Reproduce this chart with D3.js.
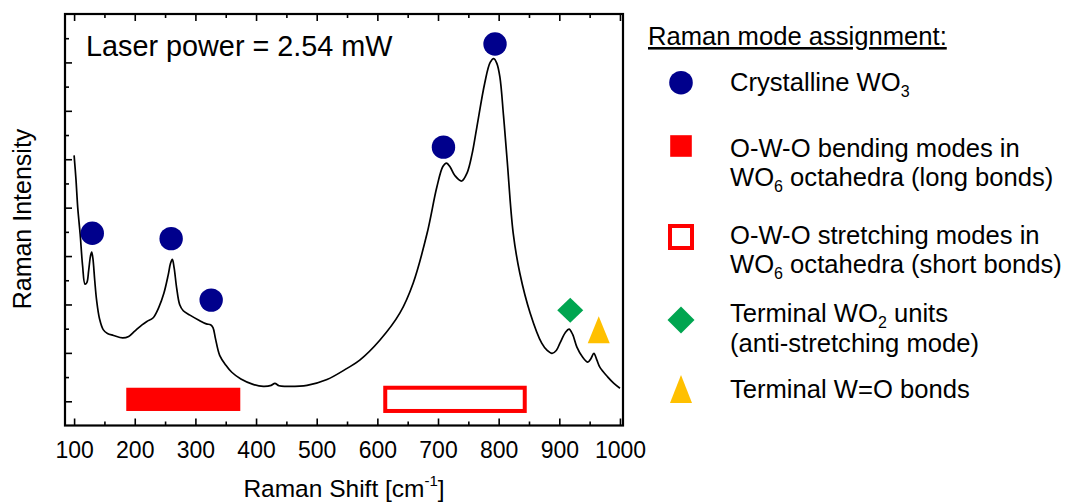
<!DOCTYPE html>
<html>
<head>
<meta charset="utf-8">
<script src="https://cdn.jsdelivr.net/npm/d3@7"></script>
<style>
  html, body { margin: 0; padding: 0; background: #fff; }
  svg { display: block; font-family: "Liberation Sans", Arial, sans-serif; }
</style>
</head>
<body>
<svg id="chart" width="1065" height="504"></svg>
<script>
// Raman spectrum of the WO3 film (arbitrary intensity units)
const wavenumber = [100, 103, 106, 110, 114, 118, 121, 124, 127, 129, 131, 134, 137, 142, 148, 155, 165, 180, 190, 200,
  212, 220, 230, 240, 248, 255, 259, 262, 265, 269, 274, 280, 291, 305, 318, 325, 329, 333, 340, 350,
  360, 375, 395, 412, 425, 431, 438, 450, 484, 517, 550, 571, 604, 637, 659, 682, 698, 708, 714, 720,
  728, 739, 748, 756, 764, 777, 786, 792, 797, 802, 808, 814, 824, 835, 852, 871, 880, 888, 895, 901,
  910, 916, 922, 929, 938, 947, 952, 957, 962, 967, 980, 990, 1000];
const intensity = [5.08, 4.6, 4.0, 3.45, 2.8, 2.42, 2.45, 2.7, 3.0, 3.08, 2.95, 2.5, 2.1, 1.7, 1.48, 1.40, 1.36, 1.31, 1.34, 1.45,
  1.58, 1.65, 1.72, 1.95, 2.23, 2.6, 2.85, 2.93, 2.75, 2.35, 2.0, 1.87, 1.78, 1.68, 1.60, 1.58, 1.52, 1.30, 0.95, 0.75,
  0.60, 0.46, 0.35, 0.31, 0.33, 0.37, 0.32, 0.31, 0.33, 0.45, 0.68, 0.85, 1.26, 1.82, 2.44, 3.47, 4.42, 4.85, 4.92, 4.84,
  4.66, 4.55, 4.72, 5.1, 5.66, 6.57, 7.0, 7.08, 6.98, 6.7, 5.9, 4.98, 3.47, 2.64, 1.82, 1.2, 1.05, 0.99, 1.05, 1.2,
  1.42, 1.49, 1.38, 1.12, 0.92, 0.81, 0.88, 0.99, 0.85, 0.70, 0.50, 0.37, 0.27];

// Mode assignment markers
const crystallineShift = [130, 260, 326, 709, 794];
const crystallineLevel = [3.47, 3.36, 2.09, 5.25, 7.38];
const wo2Shift = [918];
const wo2Level = [1.88];
const terminalShift = [965];
const terminalLevel = [1.48];

// Spectral ranges of the O-W-O modes
const bendingBand = [186, 374];
const stretchingBand = [613, 843];
const bandLevel = [-0.2, 0.28];

// Axis ticks
const xMajorTicks = [100, 200, 300, 400, 500, 600, 700, 800, 900, 1000];
const xMinorTicks = [150, 250, 350, 450, 550, 650, 750, 850, 950];
const yMajorTicks = [0, 1, 2, 3, 4, 5, 6, 7];
const yMinorTicks = [0.5, 1.5, 2.5, 3.5, 4.5, 5.5, 6.5, 7.5];

const navy = "#00008c", red = "#ff0000", green = "#00a550", amber = "#ffc000";

const svg = d3.select("#chart");
const plot = { left: 65, right: 623, top: 14, bottom: 425.5 };

const x = d3.scaleLinear().domain([85, 1005]).range([plot.left, plot.right]);
const y = d3.scaleLinear().domain([-0.5, 8]).range([plot.bottom, plot.top]);

function styleTicks(g) {
  g.select(".domain").remove();
  g.selectAll("line").attr("stroke", "#000").attr("stroke-width", 1.6);
  return g;
}

// Bottom axis: inward ticks, major and minor
const gb = svg.append("g").attr("transform", `translate(0,${plot.bottom})`)
  .call(d3.axisBottom(x).tickValues(xMajorTicks).tickSize(-7).tickPadding(16).tickFormat(d3.format("d")));
styleTicks(gb);
gb.selectAll("text").attr("font-size", 23).attr("fill", "#000").attr("font-family", "Liberation Sans, Arial, sans-serif");
styleTicks(svg.append("g").attr("transform", `translate(0,${plot.bottom})`)
  .call(d3.axisBottom(x).tickValues(xMinorTicks).tickSize(-4).tickFormat("")));

// Top axis
styleTicks(svg.append("g").attr("transform", `translate(0,${plot.top})`)
  .call(d3.axisTop(x).tickValues(xMajorTicks).tickSize(-7).tickFormat("")));
styleTicks(svg.append("g").attr("transform", `translate(0,${plot.top})`)
  .call(d3.axisTop(x).tickValues(xMinorTicks).tickSize(-4).tickFormat("")));

// Left axis (no labels)
styleTicks(svg.append("g").attr("transform", `translate(${plot.left},0)`)
  .call(d3.axisLeft(y).tickValues(yMajorTicks).tickSize(-7).tickFormat("")));
styleTicks(svg.append("g").attr("transform", `translate(${plot.left},0)`)
  .call(d3.axisLeft(y).tickValues(yMinorTicks).tickSize(-4).tickFormat("")));

// Frame
svg.append("rect")
  .attr("x", plot.left).attr("y", plot.top)
  .attr("width", plot.right - plot.left).attr("height", plot.bottom - plot.top)
  .attr("fill", "none").attr("stroke", "#000").attr("stroke-width", 2.2);

// Mode ranges
svg.append("rect")
  .attr("x", x(bendingBand[0])).attr("y", y(bandLevel[1]))
  .attr("width", x(bendingBand[1]) - x(bendingBand[0]))
  .attr("height", y(bandLevel[0]) - y(bandLevel[1]))
  .attr("fill", red);
svg.append("rect")
  .attr("x", x(stretchingBand[0])).attr("y", y(bandLevel[1]))
  .attr("width", x(stretchingBand[1]) - x(stretchingBand[0]))
  .attr("height", y(bandLevel[0]) - y(bandLevel[1]))
  .attr("fill", "none").attr("stroke", red).attr("stroke-width", 4);

// Spectrum
const spectrum = wavenumber.map((w, i) => [w, intensity[i]]);
svg.append("path")
  .datum(spectrum)
  .attr("fill", "none").attr("stroke", "#000").attr("stroke-width", 1.7)
  .attr("stroke-linejoin", "round")
  .attr("d", d3.line().x(d => x(d[0])).y(d => y(d[1])).curve(d3.curveCatmullRom.alpha(0.5)));

// Markers
svg.append("g").selectAll("circle")
  .data(crystallineShift.map((w, i) => [w, crystallineLevel[i]]))
  .join("circle")
  .attr("cx", d => x(d[0])).attr("cy", d => y(d[1])).attr("r", 11.7).attr("fill", navy);

const diamondPath = (cx, cy, w, h) => `M${cx},${cy - h / 2}L${cx + w / 2},${cy}L${cx},${cy + h / 2}L${cx - w / 2},${cy}Z`;
const trianglePath = (cx, cy, w, h) => `M${cx},${cy - h / 2}L${cx + w / 2},${cy + h / 2}L${cx - w / 2},${cy + h / 2}Z`;

svg.append("g").selectAll("path")
  .data(wo2Shift.map((w, i) => [w, wo2Level[i]]))
  .join("path")
  .attr("d", d => diamondPath(x(d[0]), y(d[1]), 26, 25)).attr("fill", green);
svg.append("g").selectAll("path")
  .data(terminalShift.map((w, i) => [w, terminalLevel[i]]))
  .join("path")
  .attr("d", d => trianglePath(x(d[0]), y(d[1]), 22, 27)).attr("fill", amber);

// Annotation
svg.append("text").attr("x", 86).attr("y", 56).attr("font-size", 28.8).attr("fill", "#000")
  .text("Laser power = 2.54 mW");

// Axis titles
svg.append("text")
  .attr("transform", "translate(31,219) rotate(-90)")
  .attr("text-anchor", "middle").attr("font-size", 25).attr("fill", "#000")
  .text("Raman Intensity");
const xt = svg.append("text").attr("x", (plot.left + plot.right) / 2).attr("y", 497)
  .attr("text-anchor", "middle").attr("font-size", 24.5).attr("fill", "#000");
xt.append("tspan").text("Raman Shift [cm");
xt.append("tspan").attr("dy", -11).attr("font-size", 15).text("-1");
xt.append("tspan").attr("dy", 11).text("]");

// Legend
const legendTitle = "Raman mode assignment:";
const legendSymbols = ["circle", "square", "openSquare", "diamond", "triangle"];
const legendLines = [
  [["Crystalline WO", "3"]],
  [["O-W-O bending modes in", ""], ["WO", "6", " octahedra (long bonds)"]],
  [["O-W-O stretching modes in", ""], ["WO", "6", " octahedra (short bonds)"]],
  [["Terminal WO", "2", " units"], ["(anti-stretching mode)", ""]],
  [["Terminal W=O bonds", ""]]
];
const legendSymbolY = [82.7, 146, 237, 320, 389];
const legendTextY = [[91], [157, 185.5], [244, 273], [322, 352], [398]];

const lg = svg.append("g");
lg.append("text").attr("x", 648).attr("y", 45).attr("font-size", 25.6).attr("fill", "#000")
  .attr("text-decoration", "underline").text(legendTitle);

legendSymbols.forEach((s, i) => {
  const cx = 681, cy = legendSymbolY[i];
  if (s === "circle") lg.append("circle").attr("cx", cx).attr("cy", cy).attr("r", 11.8).attr("fill", navy);
  if (s === "square") lg.append("rect").attr("x", cx - 10.8).attr("y", cy - 10.8).attr("width", 21.6).attr("height", 21.6).attr("fill", red);
  if (s === "openSquare") lg.append("rect").attr("x", cx - 11).attr("y", cy - 11).attr("width", 22).attr("height", 22)
    .attr("fill", "none").attr("stroke", red).attr("stroke-width", 4);
  if (s === "diamond") lg.append("path").attr("d", diamondPath(cx, cy, 27, 27)).attr("fill", green);
  if (s === "triangle") lg.append("path").attr("d", trianglePath(cx, cy, 22, 28)).attr("fill", amber);

  legendLines[i].forEach((parts, j) => {
    const t = lg.append("text").attr("x", 730).attr("y", legendTextY[i][j]).attr("font-size", 25.6).attr("fill", "#000");
    t.append("tspan").text(parts[0]);
    if (parts[1]) {
      t.append("tspan").attr("dy", 6).attr("font-size", 16).text(parts[1]);
      if (parts[2]) t.append("tspan").attr("dy", -6).text(parts[2]);
    }
  });
});
</script>
</body>
</html>
